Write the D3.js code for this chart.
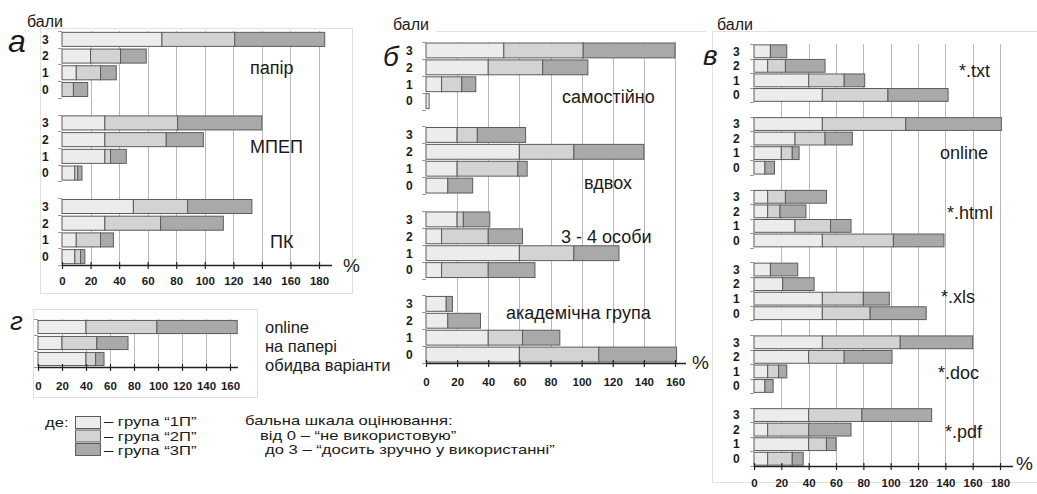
<!DOCTYPE html>
<html><head><meta charset="utf-8">
<script src="https://cdn.jsdelivr.net/npm/d3@7"></script>
<style>
body{margin:0;background:#fff}
svg{display:block}
text{font-family:"Liberation Sans",Arial,sans-serif;fill:#1a1a1a}
</style>
</head><body>
<svg id="c" width="1037" height="494"></svg>
<script>
// ---------- data ----------
const scores = ["3","2","1","0"];
const seriesKeys = ["1П","2П","3П"];
const seriesLabels = ["– група “1П”","– група “2П”","– група “3П”"];

// panel а (order: group, then scores 3,2,1,0)
const groupsA = ["папір","МПЕП","ПК"];
const a1P = [70,20,10,0,  30,30,30,9,  50,30,10,9];
const a2P = [51,21,17,8,  51,43,4,2,   38,39,17,4];
const a3P = [63,18,11,10, 59,26,11,3,  45,44,9,3];
const ticksA = [0,20,40,60,80,100,120,140,160,180];

// panel б
const groupsB = ["самостійно","вдвох","3 - 4 особи","академічна група"];
const b1P = [50,40,10,2,  20,60,20,14, 20,10,60,10, 13,14,40,60];
const b2P = [51,35,13,0,  13,35,39,0,  4,30,35,30,  0,0,22,51];
const b3P = [59,29,9,0,   31,45,6,16,  17,22,29,30, 4,21,24,50];
const ticksB = [0,20,40,60,80,100,120,140,160];

// panel в
const groupsV = ["*.txt","online","*.html","*.xls","*.doc","*.pdf"];
const v1P = [12,10,40,50, 50,30,20,8, 10,10,30,50, 12,21,50,50, 50,40,10,8, 40,10,40,10];
const v2P = [0,13,26,48,  61,22,8,0,  13,9,26,52,  0,0,30,35,   57,26,8,0,  39,30,13,18];
const v3P = [12,29,15,44, 70,20,5,7,  30,19,15,37, 20,23,19,41, 53,35,6,6,  51,31,7,8];
const ticksV = [0,20,40,60,80,100,120,140,160,180];

// panel г
const groupsG = ["online","на папері","обидва варіанти"];
const g1P = [40,20,40];
const g2P = [59,29,8];
const g3P = [67,26,7];
const ticksG = [0,20,40,60,80,100,120,140,160];

const scaleNote = ["бальна шкала оцінювання:","від 0 – “не використовую”","до 3 – “досить зручно у використанні”"];

// ---------- styles ----------
const fills = ["#ececec","#d3d3d3","#a9a9a9"];
const svg = d3.select("#c");

function drawPanel(cfg){
  const g = svg.append("g");
  const rows = [], domain = [];
  cfg.groups.forEach((gr,gi)=>{
    if(cfg.scored){
      scores.forEach((s,si)=>{
        const idx = gi*4+si;
        const key = gi+"|"+s;
        rows.push({key, score:s, vals:[cfg.s1[idx],cfg.s2[idx],cfg.s3[idx]]});
        domain.push(key);
      });
      if(gi<cfg.groups.length-1) domain.push("gap"+gi);
    } else {
      rows.push({key:gr, vals:[cfg.s1[gi],cfg.s2[gi],cfg.s3[gi]]});
      domain.push(gr);
    }
  });
  const x = d3.scaleLinear().domain([0,cfg.max]).range(cfg.xRange);
  const y = d3.scaleBand().domain(domain).range(cfg.yRange).paddingInner(cfg.pad).paddingOuter(cfg.pad/2);
  const axisY = cfg.yRange[1];

  // frame
  if(cfg.frame){
    const f = cfg.frame;
    if(cfg.frameTopOnly){
      g.append("line").attr("x1",f[0]).attr("x2",f[2]).attr("y1",f[1]+0.5).attr("y2",f[1]+0.5)
        .attr("stroke","#e2e2e2");
    } else {
      g.append("rect").attr("x",f[0]+0.5).attr("y",f[1]+0.5)
        .attr("width",f[2]-f[0]).attr("height",f[3]-f[1])
        .attr("fill","none").attr("stroke","#e0e0e0").attr("stroke-width",1);
    }
  }
  // gridlines
  g.append("g").selectAll("line").data(cfg.ticks.filter(t=>t>0)).join("line")
    .attr("x1",d=>Math.round(x(d))+0.5).attr("x2",d=>Math.round(x(d))+0.5)
    .attr("y1",cfg.yRange[0]).attr("y2",axisY)
    .attr("stroke","#b8b8b8").attr("stroke-width",1);
  // y slot ticks
  const bounds = domain.map(k=>y(k)-y.step()*cfg.pad/2).concat([axisY]);
  g.append("g").selectAll("line").data(bounds).join("line")
    .attr("x1",x(0)-4).attr("x2",x(0)).attr("y1",d=>Math.round(d)+0.5).attr("y2",d=>Math.round(d)+0.5)
    .attr("stroke","#9a9a9a").attr("stroke-width",1);

  // bars
  const segs = [];
  rows.forEach(r=>{
    let cum=0;
    r.vals.forEach((v,k)=>{ if(v>0){ segs.push({key:r.key,x0:cum,x1:cum+v,k}); } cum+=v; });
  });
  g.append("g").selectAll("rect").data(segs).join("rect")
    .attr("x",d=>x(d.x0)).attr("width",d=>x(d.x1)-x(d.x0))
    .attr("y",d=>y(d.key)).attr("height",y.bandwidth())
    .attr("fill",d=>fills[d.k]).attr("stroke","#5c5c5c").attr("stroke-width",1);

  // score labels
  if(cfg.scored){
    g.append("g").selectAll("text").data(rows).join("text")
      .attr("x",cfg.scoreX).attr("y",d=>y(d.key)+y.bandwidth()/2)
      .attr("dy","0.36em").attr("font-size",12).attr("font-weight","bold").text(d=>d.score);
  }

  // x axis
  const ax = g.append("g").attr("transform",`translate(0,${axisY})`)
    .call(d3.axisBottom(x).tickValues(cfg.ticks).tickSize(4).tickPadding(cfg.tickPad).tickSizeOuter(0));
  ax.select(".domain").remove();
  ax.selectAll(".tick line").attr("y1",-3).attr("stroke","#222").attr("stroke-width",1.2);
  ax.selectAll(".tick text").attr("font-size",cfg.tickFont).attr("font-weight","bold")
    .attr("font-family","'Liberation Sans',Arial,sans-serif").attr("fill","#1a1a1a");
  ax.append("line").attr("x1",x(0)).attr("x2",cfg.axisEnd).attr("y1",0.5).attr("y2",0.5)
    .attr("stroke","#222").attr("stroke-width",1.4);
  if(cfg.pct){
    g.append("text").attr("x",cfg.pct[0]).attr("y",cfg.pct[1]).attr("font-size",19).text("%");
  }
  // group labels
  g.append("g").selectAll("text").data(cfg.groups).join("text")
    .attr("x",(d,i)=>cfg.labelPos[i][0]).attr("y",(d,i)=>cfg.labelPos[i][1])
    .attr("dy","0.35em").attr("font-size",cfg.labelFont).text(d=>d);
  // бали
  if(cfg.bali){
    g.append("text").attr("x",cfg.bali[0]).attr("y",cfg.bali[1]).attr("dy","0.35em")
      .attr("font-size",16).text("бали");
  }
  // panel letter
  g.append("text").attr("x",cfg.letter[0]).attr("y",cfg.letter[1])
    .attr("font-family","'Liberation Serif','DejaVu Serif',serif").attr("font-style","italic")
    .attr("font-size",cfg.letter[3]).text(cfg.letter[2]);
}

drawPanel({groups:groupsA,s1:a1P,s2:a2P,s3:a3P,ticks:ticksA,max:180,scored:true,
  xRange:[62,319],yRange:[31,265],pad:0.16,axisEnd:332,tickPad:8,tickFont:11.5,
  scoreX:42,pct:[343,272],frame:[40,28,352,293],bali:[27,21],
  labelPos:[[250,68],[250,147],[270,242]],labelFont:18,letter:[8,52,"а",32]});

drawPanel({groups:groupsB,s1:b1P,s2:b2P,s3:b3P,ticks:ticksB,max:160,scored:true,
  xRange:[426,675],yRange:[42,363],pad:0.12,axisEnd:686,tickPad:11,tickFont:11.5,
  scoreX:406,pct:[692,369],frame:[436,31,706,395],frameTopOnly:true,bali:[393,24],
  labelPos:[[562,97],[584,183],[561,237],[506,313]],labelFont:18,letter:[383,66,"б",28]});

drawPanel({groups:groupsV,s1:v1P,s2:v2P,s3:v3P,ticks:ticksV,max:180,scored:true,
  xRange:[754,1000],yRange:[44,466],pad:0.12,axisEnd:1013,tickPad:9,tickFont:11.5,
  scoreX:733,pct:[1016,470],frame:[712,31,1040,482],bali:[717,24],
  labelPos:[[959,71],[940,153],[947,213],[941,297],[938,373],[945,432]],labelFont:18,letter:[703,65,"в",28]});

drawPanel({groups:groupsG,s1:g1P,s2:g2P,s3:g3P,ticks:ticksG,max:160,scored:false,
  xRange:[38,230],yRange:[319,367],pad:0.18,axisEnd:238,tickPad:11,tickFont:11.5,
  frame:[33,309,257,397],
  labelPos:[[265,327],[265,346],[265,365]],labelFont:16.5,letter:[10,330,"г",26]});

// legend
const leg = svg.append("g");
function lineText(sel, x, y, txt){
  return sel.append("text").attr("transform",`translate(${x},${y}) scale(1.3,1)`)
    .attr("dy","0.35em").attr("font-size",12.8).text(txt);
}
lineText(leg,45,423,"де:");
seriesKeys.forEach((k,i)=>{
  leg.append("rect").attr("x",75.5).attr("y",416.5+i*13.5).attr("width",25).attr("height",12)
    .attr("fill",fills[i]).attr("stroke","#5c5c5c").attr("stroke-width",1);
  lineText(leg,104,422+i*14.5,seriesLabels[i]);
});
const noteX = [245,260,265];
scaleNote.forEach((t,i)=>{ lineText(leg,noteX[i],421+i*14.5,t); });
</script>
</body></html>
